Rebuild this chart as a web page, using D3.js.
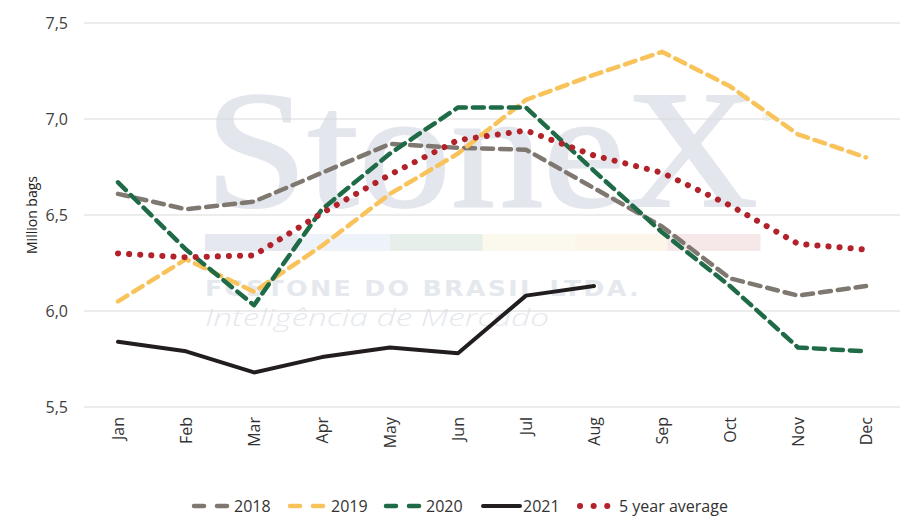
<!DOCTYPE html>
<html>
<head>
<meta charset="utf-8">
<script src="https://cdn.jsdelivr.net/npm/d3@7"></script>
<style>
  body { margin: 0; background: #fff; }
  svg { font-family: "Open Sans", Lato, sans-serif; }
</style>
</head>
<body>
<div id="chart"></div>
<script>
const months = ["Jan","Feb","Mar","Apr","May","Jun","Jul","Aug","Sep","Oct","Nov","Dec"];
const yTicks = [5.5, 6.0, 6.5, 7.0, 7.5];

const s2018 = [6.61, 6.53, 6.57, 6.72, 6.87, 6.85, 6.84, 6.64, 6.44, 6.17, 6.08, 6.13];
const s2019 = [6.05, 6.27, 6.10, 6.34, 6.61, 6.82, 7.10, 7.23, 7.35, 7.17, 6.92, 6.80];
const s2020 = [6.67, 6.32, 6.03, 6.53, 6.82, 7.06, 7.06, 6.73, 6.41, 6.13, 5.81, 5.79];
const s2021 = [5.84, 5.79, 5.68, 5.76, 5.81, 5.78, 6.08, 6.13];
const sAvg  = [6.30, 6.28, 6.29, 6.51, 6.71, 6.89, 6.94, 6.81, 6.72, 6.55, 6.35, 6.32];

const seriesNames = ["2018", "2019", "2020", "2021", "5 year average"];

const W = 920, H = 529;
const svg = d3.select("#chart").append("svg")
  .attr("width", W).attr("height", H);

const x = d3.scalePoint().domain(months).range([118, 866]);
const y = d3.scaleLinear().domain([5.5, 7.5]).range([407, 23]);

// watermark
const wm = svg.append("g").attr("class", "watermark");
wm.append("text")
  .attr("x", 205).attr("y", 206)
  .attr("textLength", 553).attr("lengthAdjust", "spacingAndGlyphs")
  .attr("font-family", "'Liberation Serif', 'DejaVu Serif', serif")
  .attr("font-size", 168)
  .attr("fill", "#e3e6ec")
  .attr("stroke", "#e3e6ec").attr("stroke-width", 2)
  .text("StoneX");
wm.append("text")
  .attr("x", 762).attr("y", 121)
  .attr("font-size", 11).attr("fill", "#e4e7ed")
  .text("®");
const barCols = ["#e5e8ee", "#edf3f9", "#e6efe9", "#fbf8ee", "#fcf5ea", "#f6e7e8"];
const bw = (760 - 205) / barCols.length;
wm.selectAll("rect.band").data(barCols).join("rect")
  .attr("class", "band")
  .attr("x", (d, i) => 205 + i * bw).attr("y", 234)
  .attr("width", bw + 0.5).attr("height", 17)
  .attr("fill", d => d);
wm.append("text")
  .attr("x", 205).attr("y", 296)
  .attr("textLength", 436).attr("lengthAdjust", "spacingAndGlyphs")
  .attr("font-family", "'DejaVu Sans', sans-serif")
  .attr("font-weight", 700).attr("font-size", 22)
  .attr("letter-spacing", 2)
  .attr("fill", "#e5e8ed")
  .text("FCSTONE DO BRASIL LTDA.");
wm.append("text")
  .attr("x", 205).attr("y", 326)
  .attr("textLength", 344).attr("lengthAdjust", "spacingAndGlyphs")
  .attr("font-family", "'Open Sans', sans-serif")
  .attr("font-style", "italic").attr("font-weight", 300).attr("font-size", 24)
  .attr("fill", "#e5e8ed")
  .text("Inteligência de Mercado");

// grid
svg.append("g").selectAll("line").data(yTicks).join("line")
  .attr("x1", 84).attr("x2", 900)
  .attr("y1", d => y(d)).attr("y2", d => y(d))
  .attr("stroke", "#d9d9d9").attr("stroke-width", 1);

// y axis labels
const yAxis = svg.append("g").attr("transform", "translate(84,0)")
  .call(d3.axisLeft(y).tickValues(yTicks).tickSize(0).tickPadding(16)
    .tickFormat(d => d3.format(".1f")(d).replace(".", ",")));
yAxis.select(".domain").remove();
yAxis.selectAll("text").attr("font-size", 16).attr("fill", "#404040")
  .attr("font-family", "'Open Sans', sans-serif");

svg.append("text")
  .attr("transform", "translate(37,215) rotate(-90)")
  .attr("text-anchor", "middle")
  .attr("font-size", 14).attr("fill", "#222")
  .text("Million bags");

// x axis labels
const xAxis = svg.append("g").attr("transform", "translate(0,407)")
  .call(d3.axisBottom(x).tickSize(0));
xAxis.select(".domain").remove();
xAxis.selectAll("text")
  .attr("transform", "rotate(-90)")
  .attr("text-anchor", "end")
  .attr("x", -10).attr("y", 0).attr("dy", "0.35em")
  .attr("font-size", 16).attr("fill", "#333")
  .attr("font-family", "'Open Sans', sans-serif");

const styles = [
  { data: s2018, color: "#7f7870", dash: "11 7", width: 4.5 },
  { data: s2019, color: "#f9c35c", dash: "11 7", width: 4.5 },
  { data: s2020, color: "#1f6b47", dash: "11 7", width: 4.5 },
  { data: s2021, color: "#221e1f", dash: null, width: 4 },
  { data: sAvg,  color: "#b2222a", dash: "0.1 11", width: 6 }
];

const line = d3.line()
  .x((d, i) => x(months[i]))
  .y(d => y(d));

styles.forEach(s => {
  svg.append("path")
    .datum(s.data)
    .attr("d", line)
    .attr("fill", "none")
    .attr("stroke", s.color)
    .attr("stroke-width", s.width)
    .attr("stroke-linecap", "round")
    .attr("stroke-linejoin", "round")
    .attr("stroke-dasharray", s.dash);
});

// legend
const legendPos = [
  { sx: 194, ex: 228, tx: 234 },
  { sx: 290, ex: 325, tx: 331 },
  { sx: 386, ex: 421, tx: 426 },
  { sx: 483, ex: 520, tx: 523 },
  { sx: 580, ex: 608, tx: 619 }
];
const lg = svg.append("g");
seriesNames.forEach((name, i) => {
  const s = styles[i], p = legendPos[i];
  lg.append("line")
    .attr("x1", p.sx).attr("x2", p.ex)
    .attr("y1", 506).attr("y2", 506)
    .attr("stroke", s.color)
    .attr("stroke-width", s.width)
    .attr("stroke-linecap", "round")
    .attr("stroke-dasharray", s.dash ? (i === 4 ? "0.1 13.5" : "10 13") : null);
  lg.append("text")
    .attr("x", p.tx).attr("y", 506).attr("dy", "0.35em")
    .attr("font-size", 16).attr("fill", "#333")
    .text(name);
});
</script>
</body>
</html>
